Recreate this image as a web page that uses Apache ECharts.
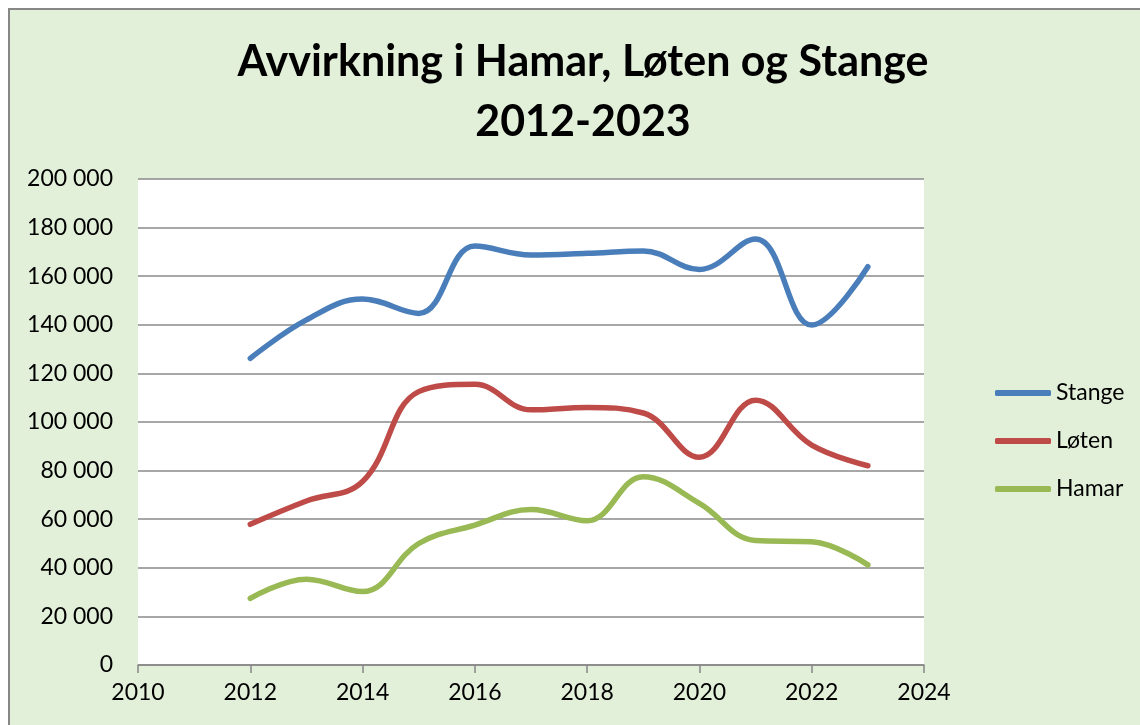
<!DOCTYPE html>
<html>
<head>
<meta charset="utf-8">
<script src="https://cdn.jsdelivr.net/npm/echarts@6/dist/echarts.min.js"></script>
<style>
  html, body { margin: 0; padding: 0; background: #fff; }
  #main { width: 1140px; height: 725px; }
</style>
</head>
<body>
<div id="main"></div>
<script>
// data
var years = [2012, 2013, 2014, 2015, 2016, 2017, 2018, 2019, 2020, 2021, 2022, 2023]
var stange = [126200, 142000, 150600, 144700, 172400, 168700, 169400, 170400, 162800, 175300, 139900, 163900]
var loten = [57900, 67500, 75500, 112500, 115500, 105000, 106000, 103700, 85500, 109000, 90500, 82000]
var hamar = [27400, 35300, 30200, 50000, 57600, 64000, 59400, 77500, 66500, 51200, 50700, 41200]
var seriesNames = ['Stange', 'Løten', 'Hamar']
var colors = ['#4A7EBB', '#BE4B48', '#98B954']

var font = 'Lato, "Open Sans", sans-serif'

function pairs (vals) {
  return years.map((y, i) => [y, vals[i]])
}
function spaced (v) {
  return String(v).replace(/\B(?=(\d{3})+(?!\d))/g, ' ')
}

var chart = echarts.init(document.getElementById('main'))
var option = {
  backgroundColor: '#fff',
  animation: false,
  graphic: [{
    type: 'rect',
    z: -10,
    shape: { x: 9, y: 9, width: 1160, height: 740 },
    style: { fill: '#E2EFD9', stroke: '#878787', lineWidth: 2 }
  }],
  title: {
    text: 'Avvirkning i Hamar, Løten og Stange\n2012-2023',
    left: 578,
    top: 27,
    textAlign: 'center',
    textStyle: {
      fontFamily: font,
      fontWeight: 'bold',
      fontSize: 43,
      lineHeight: 60,
      color: '#000'
    }
  },
  legend: {
    orient: 'vertical',
    left: 990,
    top: 376,
    icon: 'roundRect',
    itemWidth: 56,
    itemHeight: 6,
    itemGap: 24,
    data: seriesNames,
    textStyle: { fontFamily: font, fontSize: 23, lineHeight: 24, color: '#000' }
  },
  grid: {
    left: 138,
    top: 179,
    width: 786,
    height: 486,
    show: true,
    backgroundColor: '#fff',
    borderWidth: 0
  },
  xAxis: {
    type: 'value',
    min: 2010,
    max: 2024,
    interval: 2,
    axisLine: { show: true, lineStyle: { color: '#878787', width: 1.5 } },
    axisTick: { show: true, length: 8, lineStyle: { color: '#878787', width: 1.5 } },
    splitLine: { show: false },
    axisLabel: { fontFamily: font, fontSize: 23, color: '#000', margin: 16, formatter: v => String(v) }
  },
  yAxis: {
    type: 'value',
    min: 0,
    max: 200000,
    interval: 20000,
    axisLine: { show: false },
    axisTick: { show: false },
    splitLine: { lineStyle: { color: '#8A8A8A', width: 1.5 } },
    axisLabel: {
      fontFamily: font,
      fontSize: 23,
      color: '#000',
      margin: 25,
      formatter: spaced
    }
  },
  series: [
    { name: seriesNames[0], data: pairs(stange) },
    { name: seriesNames[1], data: pairs(loten) },
    { name: seriesNames[2], data: pairs(hamar) }
  ].map((s, i) => Object.assign(s, {
    type: 'line',
    smooth: 0.4,
    symbol: 'none',
    color: colors[i],
    lineStyle: { width: 5.5, color: colors[i], cap: 'round' }
  }))
}
chart.setOption(option)
</script>
</body>
</html>
